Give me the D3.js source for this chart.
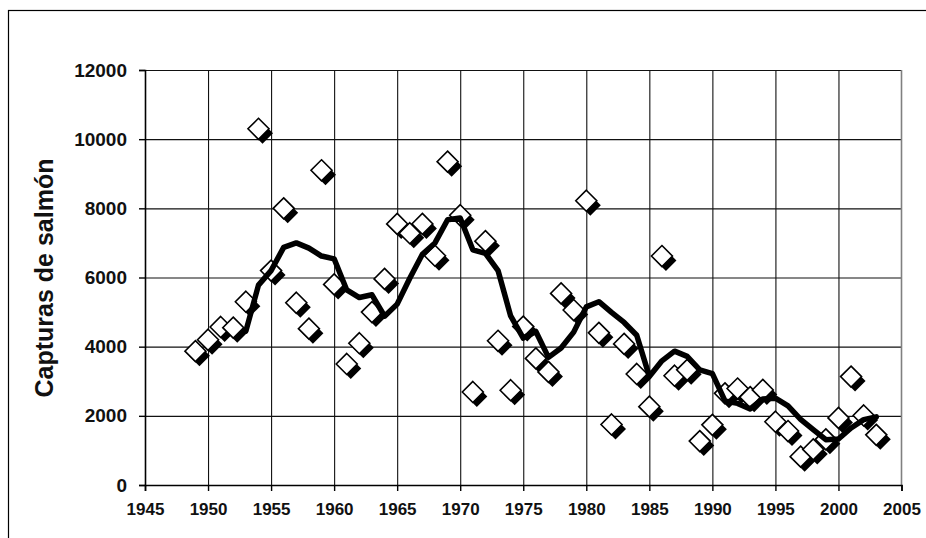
<!DOCTYPE html>
<html>
<head>
<meta charset="utf-8">
<script src="https://cdn.jsdelivr.net/npm/d3@7"></script>
<style>
  body { margin: 0; background: #fff; }
  svg { display: block; font-family: "Liberation Sans", Arial, sans-serif; }
</style>
</head>
<body>
<svg id="chart" width="926" height="538"></svg>
<script>
// annual salmon catches (points)
const years = [1949, 1950, 1951, 1952, 1953, 1954, 1955, 1956, 1957, 1958,
  1959, 1960, 1961, 1962, 1963, 1964, 1965, 1966, 1967, 1968,
  1969, 1970, 1971, 1972, 1973, 1974, 1975, 1976, 1977, 1978,
  1979, 1980, 1981, 1982, 1983, 1984, 1985, 1986, 1987, 1988,
  1989, 1990, 1991, 1992, 1993, 1994, 1995, 1996, 1997, 1998,
  1999, 2000, 2001, 2002, 2003];
const catches = [3870, 4200, 4570, 4550, 5300, 10300, 6200, 8000, 5270, 4520,
  9100, 5800, 3500, 4100, 5000, 5960, 7550, 7280, 7550, 6630,
  9350, 7800, 2690, 7050, 4170, 2740, 4580, 3660, 3270, 5540,
  5060, 8220, 4400, 1750, 4080, 3210, 2265, 6620, 3160, 3330,
  1270, 1740, 2650, 2790, 2540, 2750, 1830, 1560, 820, 1030,
  1320, 1940, 3135, 2010, 1450];

// smoothed trend line
const trendYears = [1953, 1954, 1955, 1956, 1957, 1958, 1959, 1960, 1961, 1962,
  1963, 1964, 1965, 1966, 1967, 1968, 1969, 1970, 1971, 1972,
  1973, 1974, 1975, 1976, 1977, 1978, 1979, 1980, 1981, 1982,
  1983, 1984, 1985, 1986, 1987, 1988, 1989, 1990, 1991, 1992,
  1993, 1994, 1995, 1996, 1997, 1998, 1999, 2000, 2001, 2002, 2003];
const trendValues = [4450, 5780, 6200, 6870, 7000, 6850, 6620, 6540, 5640, 5420,
  5500, 4880, 5230, 5980, 6670, 7000, 7670, 7720, 6800, 6700,
  6200, 4890, 4250, 4440, 3690, 3960, 4420, 5150, 5300, 4990,
  4700, 4330, 3140, 3590, 3870, 3720, 3330, 3220, 2430, 2360,
  2200, 2490, 2510, 2290, 1900, 1600, 1310, 1330, 1650, 1890, 1970];

const xTicks = [1945, 1950, 1955, 1960, 1965, 1970, 1975, 1980, 1985, 1990, 1995, 2000, 2005];
const yTicks = [0, 2000, 4000, 6000, 8000, 10000, 12000];
const yTitle = "Capturas de salmón";

const margin = { top: 70, right: 24.5, bottom: 53, left: 145 };
const width = 926 - margin.left - margin.right;
const height = 538 - margin.top - margin.bottom;

const svg = d3.select("#chart");

// outer frame (runs off the right and bottom edges)
svg.append("rect")
  .attr("x", 8.5).attr("y", 10.5)
  .attr("width", 1000).attr("height", 1000)
  .attr("fill", "#fff")
  .attr("stroke", "#000")
  .attr("stroke-width", 1.2);

const g = svg.append("g")
  .attr("transform", `translate(${margin.left}, ${margin.top})`);

const xScale = d3.scaleLinear().domain([1945, 2005]).range([0, width]);
const yScale = d3.scaleLinear().domain([0, 12000]).range([height, 0]);

// grid
g.append("g")
  .attr("class", "grid_y")
  .call(d3.axisLeft(yScale).tickValues(yTicks.slice(1)).tickSize(-width).tickFormat(""))
  .call((s) => s.select(".domain").remove())
  .selectAll("line")
  .attr("stroke", "#111")
  .attr("stroke-width", 1.1);

g.append("g")
  .attr("class", "grid_x")
  .attr("transform", `translate(0, ${height})`)
  .call(d3.axisBottom(xScale).tickValues(xTicks.slice(1, -1)).tickSize(-height).tickFormat(""))
  .call((s) => s.select(".domain").remove())
  .selectAll("line")
  .attr("stroke", "#111")
  .attr("stroke-width", 1.1);

// right edge of plot area
g.append("line")
  .attr("x1", width).attr("x2", width)
  .attr("y1", 0).attr("y2", height)
  .attr("stroke", "#808080")
  .attr("stroke-width", 1.6);

// axes
const yAxis = g.append("g")
  .attr("class", "y_axis_g")
  .call(d3.axisLeft(yScale).tickValues(yTicks).tickSize(6).tickPadding(12).tickFormat(d3.format("d")));

const xAxis = g.append("g")
  .attr("class", "x_axis_g")
  .attr("transform", `translate(0, ${height})`)
  .call(d3.axisBottom(xScale).tickValues(xTicks).tickSize(6).tickPadding(12).tickFormat(d3.format("d")));

[yAxis, xAxis].forEach((a) => {
  a.selectAll(".domain").attr("stroke", "#000").attr("stroke-width", 1.6);
  a.selectAll(".tick line").attr("stroke", "#000").attr("stroke-width", 1.4);
  a.selectAll("text").attr("fill", "#111").style("font-weight", "bold");
});
yAxis.selectAll("text").style("font-size", "19px");
xAxis.selectAll("text").style("font-size", "17px");

// y title
svg.append("text")
  .attr("transform", "translate(53, 278) rotate(-90)")
  .attr("text-anchor", "middle")
  .style("font-size", "25px")
  .style("font-weight", "bold")
  .attr("fill", "#111")
  .text(yTitle);

// diamond markers with shadow
const points = years.map((yr, i) => ({ year: yr, value: catches[i] }));
const diamond = "M0,-10.5L10.5,0L0,10.5L-10.5,0Z";

g.selectAll(".shadow")
  .data(points)
  .join("path")
  .attr("class", "shadow")
  .attr("d", diamond)
  .attr("transform", (d) => `translate(${xScale(d.year) + 4}, ${yScale(d.value) + 4.5})`)
  .attr("fill", "#000");

g.selectAll(".marker")
  .data(points)
  .join("path")
  .attr("class", "marker")
  .attr("d", diamond)
  .attr("transform", (d) => `translate(${xScale(d.year)}, ${yScale(d.value)})`)
  .attr("fill", "#fff")
  .attr("stroke", "#000")
  .attr("stroke-width", 1.6);

// trend line
const trend = trendYears.map((yr, i) => ({ year: yr, value: trendValues[i] }));
g.append("path")
  .datum(trend)
  .attr("fill", "none")
  .attr("stroke", "#000")
  .attr("stroke-width", 5.5)
  .attr("stroke-linejoin", "round")
  .attr("stroke-linecap", "round")
  .attr("d", d3.line().x((d) => xScale(d.year)).y((d) => yScale(d.value)));
</script>
</body>
</html>
